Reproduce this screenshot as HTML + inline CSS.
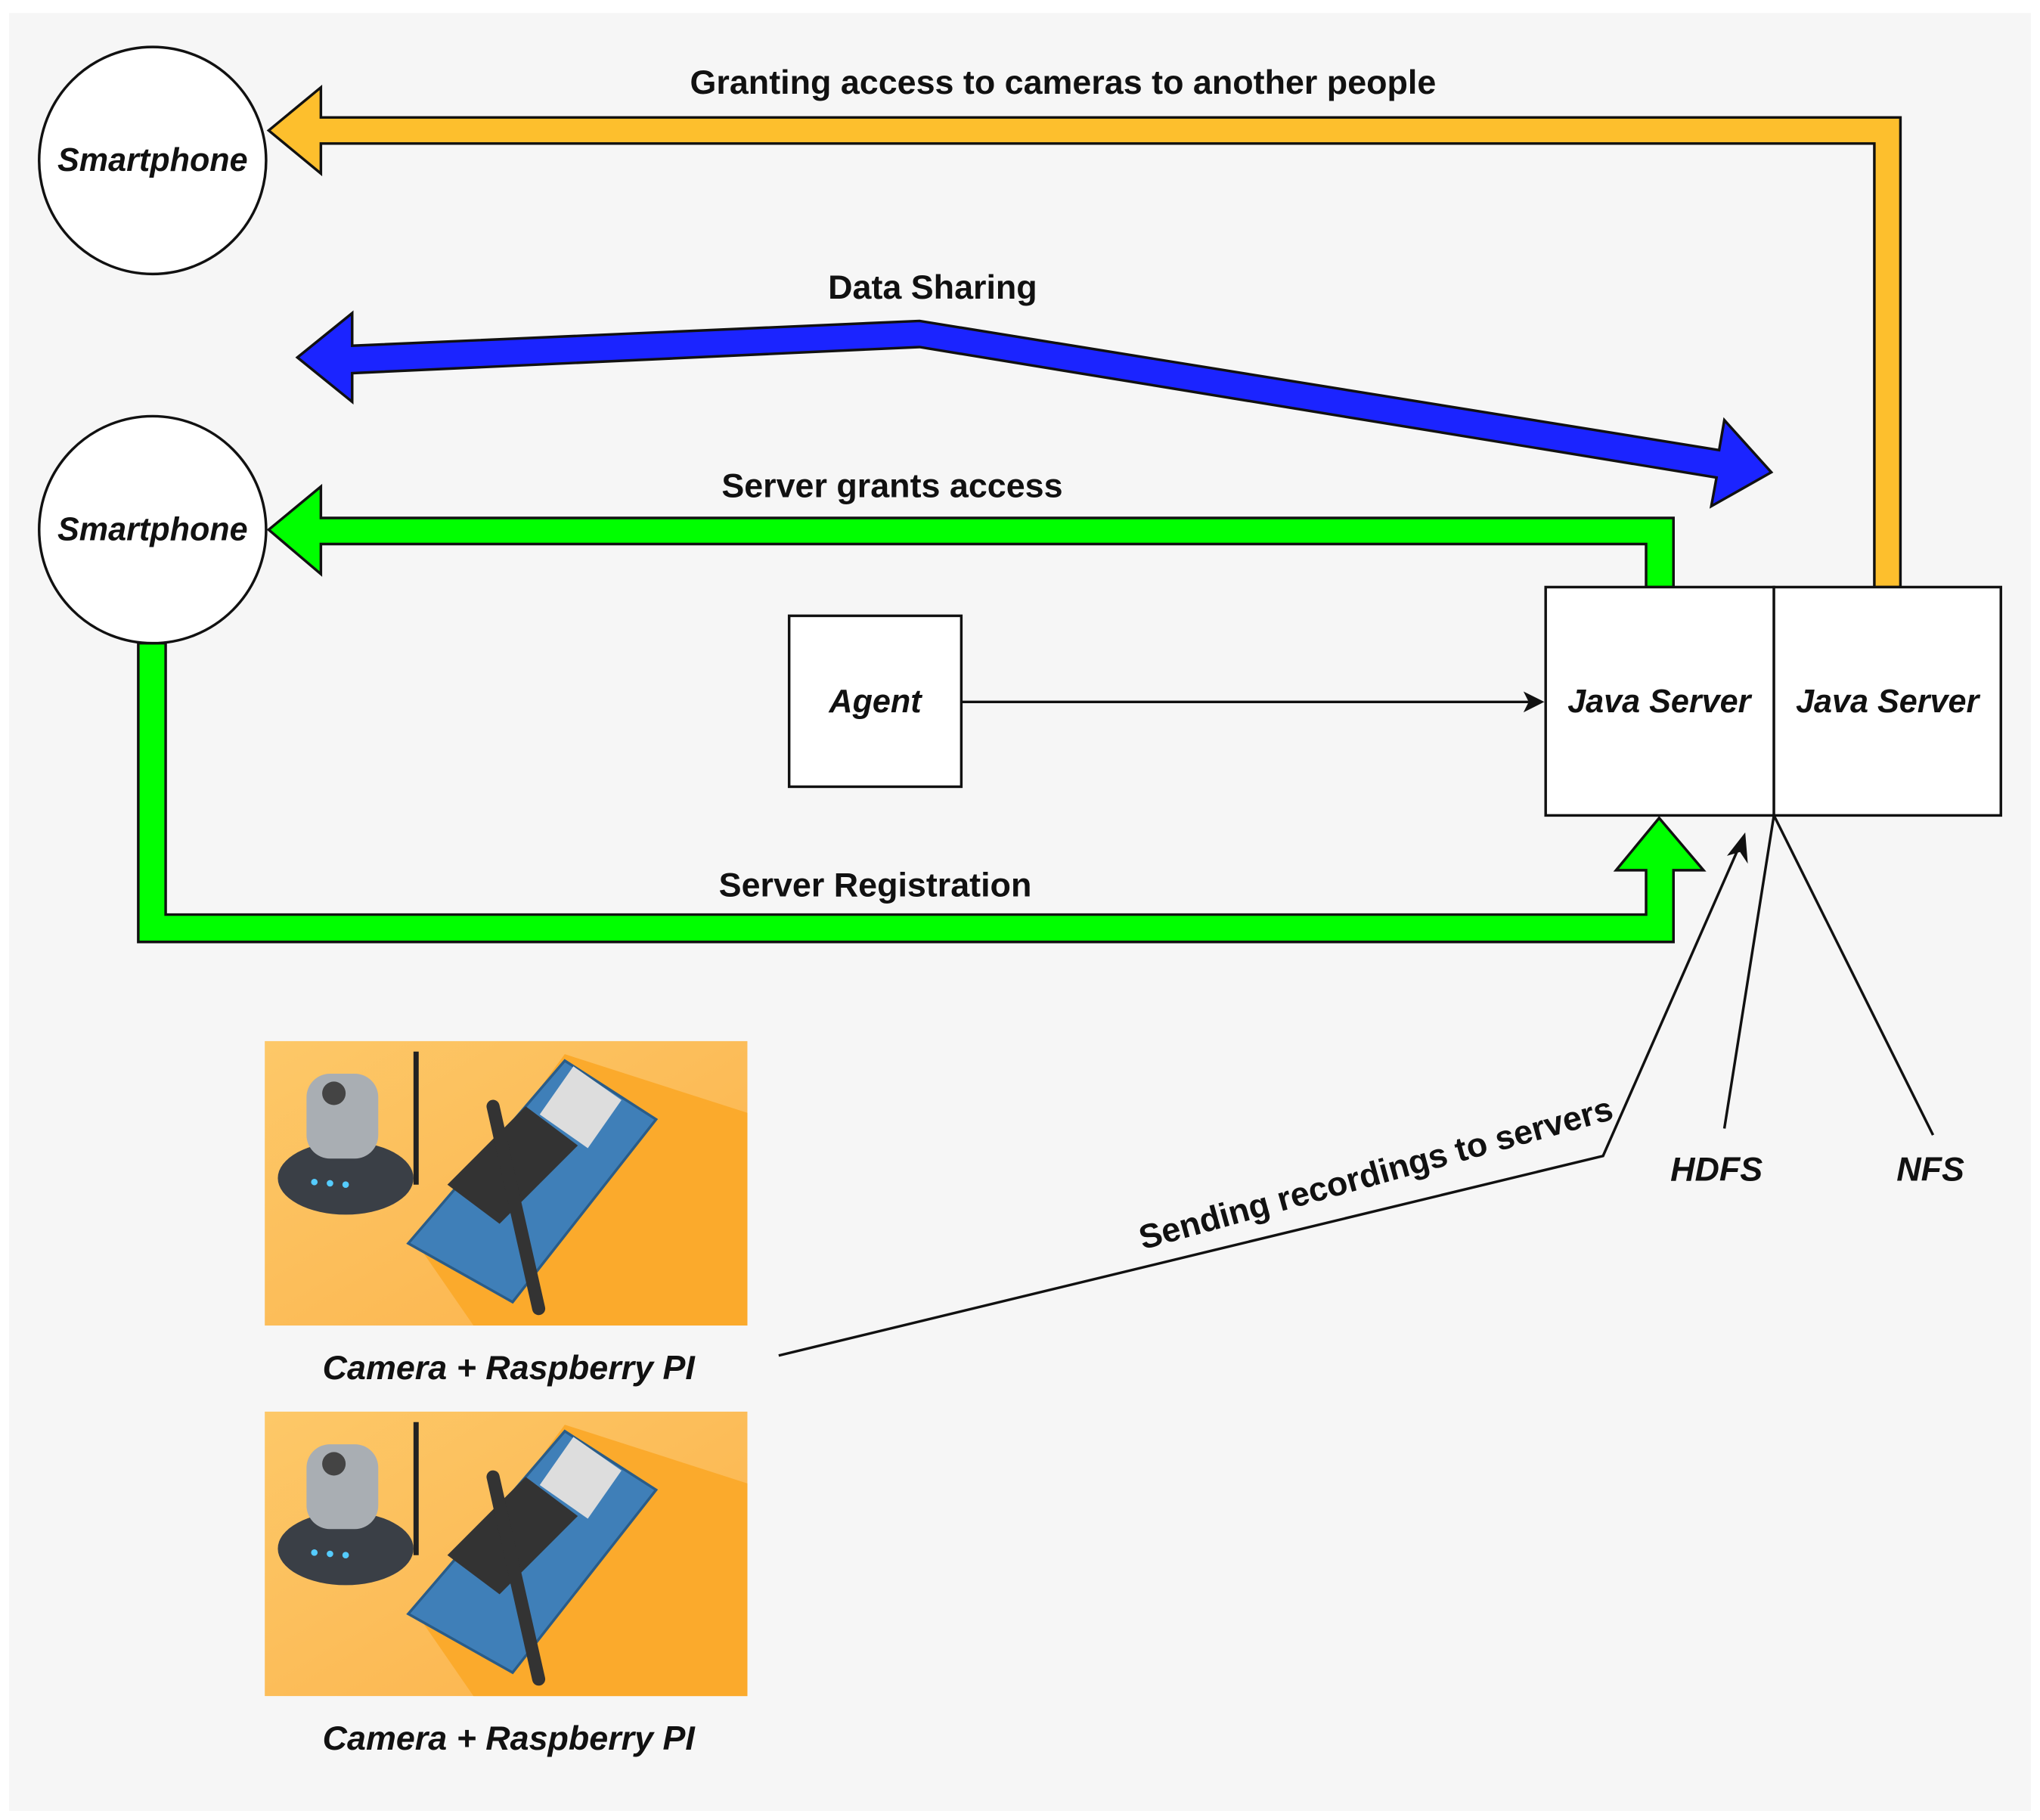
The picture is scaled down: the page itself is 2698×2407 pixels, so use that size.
<!DOCTYPE html>
<html><head><meta charset="utf-8"><style>
html,body{margin:0;padding:0;background:#fff;}
svg{display:block;}
text{font-family:"Liberation Sans",Arial,sans-serif;font-weight:bold;fill:#111;}
.i{font-style:italic;}
</style></head><body>
<svg width="2698" height="2407" viewBox="0 0 1564 1395" preserveAspectRatio="none" xmlns="http://www.w3.org/2000/svg">
<defs>
<linearGradient id="og" x1="0" y1="0" x2="1" y2="1">
<stop offset="0" stop-color="#fdc868"/><stop offset="1" stop-color="#fbb24a"/>
</linearGradient>
<g id="cam">
<rect x="0" y="0" width="370" height="218" fill="url(#og)"/>
<polygon points="230,10 370,55 370,218 160,218 120,160" fill="#fbaa2c"/>
<polygon points="110,155 230,15 300,60 190,200" fill="#3f7fb8" stroke="#2a5c88" stroke-width="2"/>
<polygon points="140,110 200,50 240,80 180,140" fill="#333"/>
<rect x="220" y="28" width="45" height="45" fill="#ddd" transform="rotate(35 242 50)"/>
<line x1="175" y1="50" x2="210" y2="205" stroke="#333" stroke-width="10" stroke-linecap="round"/>
<line x1="116" y1="8" x2="116" y2="110" stroke="#222" stroke-width="4"/>
<ellipse cx="62" cy="105" rx="52" ry="28" fill="#3a3f46"/>
<rect x="32" y="25" width="55" height="65" rx="18" fill="#a9aeb3"/>
<circle cx="53" cy="40" r="9" fill="#444"/>
<circle cx="38" cy="108" r="2.5" fill="#5cf"/><circle cx="50" cy="109" r="2.5" fill="#5cf"/><circle cx="62" cy="110" r="2.5" fill="#5cf"/>
</g>
</defs>
<rect x="0" y="0" width="1564" height="1395" fill="#fff"/>
<rect x="7" y="10" width="1550" height="1378" fill="#f6f6f6"/>

<polygon points="206,100 246,67 246,90 1457,90 1457,450 1437,450 1437,110 246,110 246,133" fill="#fdbf2d" stroke="#111" stroke-width="2"/>
<polygon points="228,274 270,240 270,265 705,246 1318,345 1322,322 1358,362 1312,388 1316,366 705,266 270,286 270,308" fill="#1b24ff" stroke="#111" stroke-width="2"/>
<polygon points="206,406 246,373 246,397 1283,397 1283,450 1262,450 1262,417 246,417 246,440" fill="#00ff00" stroke="#111" stroke-width="2"/>
<polygon points="106,493 127,493 127,701 1262,701 1262,667 1239,667 1272,627 1306,667 1283,667 1283,722 106,722" fill="#00ff00" stroke="#111" stroke-width="2"/>

<circle cx="117" cy="123" r="87" fill="#fff" stroke="#111" stroke-width="2"/>
<circle cx="117" cy="406" r="87" fill="#fff" stroke="#111" stroke-width="2"/>
<text x="117" y="131" text-anchor="middle" font-size="25" class="i">Smartphone</text>
<text x="117" y="414" text-anchor="middle" font-size="25" class="i">Smartphone</text>

<rect x="605" y="472" width="132" height="131" fill="#fff" stroke="#111" stroke-width="2"/>
<text x="671" y="546" text-anchor="middle" font-size="25" class="i">Agent</text>
<rect x="1185" y="450" width="175" height="175" fill="#fff" stroke="#111" stroke-width="2"/>
<rect x="1360" y="450" width="174" height="175" fill="#fff" stroke="#111" stroke-width="2"/>
<text x="1272" y="546" text-anchor="middle" font-size="25" class="i">Java Server</text>
<text x="1447" y="546" text-anchor="middle" font-size="25" class="i">Java Server</text>

<line x1="737" y1="538" x2="1172" y2="538" stroke="#111" stroke-width="2"/>
<polygon points="1184,538 1168,530 1172,538 1168,546" fill="#111"/>

<text x="815" y="72" text-anchor="middle" font-size="26">Granting access to cameras to another people</text>
<text x="715" y="229" text-anchor="middle" font-size="26">Data Sharing</text>
<text x="684" y="381" text-anchor="middle" font-size="26">Server grants access</text>
<text x="671" y="687" text-anchor="middle" font-size="26">Server Registration</text>

<polyline points="597,1039 1229,886 1332,652" fill="none" stroke="#111" stroke-width="2"/>
<polygon points="1338,638 1324,656 1334,653 1340,662" fill="#111"/>
<line x1="1360" y1="625" x2="1322" y2="865" stroke="#111" stroke-width="2"/>
<line x1="1360" y1="625" x2="1482" y2="870" stroke="#111" stroke-width="2"/>
<text x="1055" y="908" text-anchor="middle" font-size="26" transform="rotate(-15.5 1055 900)">Sending recordings to servers</text>
<text x="1316" y="905" text-anchor="middle" font-size="26" class="i">HDFS</text>
<text x="1480" y="905" text-anchor="middle" font-size="26" class="i">NFS</text>

<use href="#cam" x="203" y="798"/>
<use href="#cam" x="203" y="1082"/>
<text x="390" y="1057" text-anchor="middle" font-size="26" class="i">Camera + Raspberry PI</text>
<text x="390" y="1341" text-anchor="middle" font-size="26" class="i">Camera + Raspberry PI</text>
</svg>
</body></html>
